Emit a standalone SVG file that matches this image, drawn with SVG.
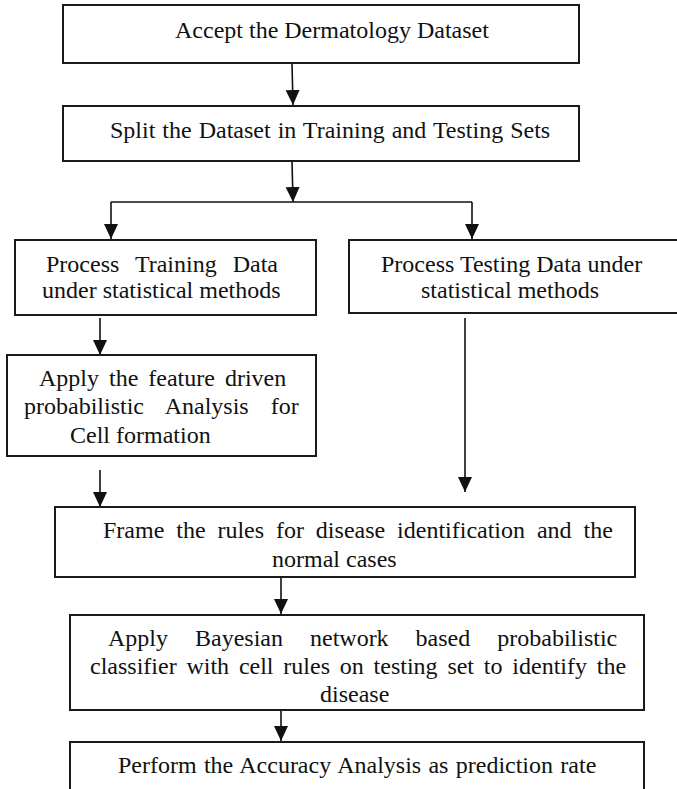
<svg xmlns="http://www.w3.org/2000/svg" width="677" height="789" viewBox="0 0 677 789">
<style>
.box{fill:#fff;stroke:#1a1a1a;stroke-width:2}
.t{font-family:"Liberation Serif","Times New Roman",serif;font-size:24px;fill:#111}
.c{stroke:#111;stroke-width:1.6;fill:none}
</style>
<defs>
<marker id="ah" markerUnits="userSpaceOnUse" markerWidth="15" markerHeight="15" refX="15" refY="7.5" orient="auto">
<path d="M0,0.5 L15,7.5 L0,14.5 z" fill="#111"/>
</marker>
</defs>
<rect width="677" height="789" fill="#fff"/>
<g id="connectors">
<path class="c" d="M292,63 L293,105" marker-end="url(#ah)"/>
<path class="c" d="M292,161 L293,202" marker-end="url(#ah)"/>
<path class="c" d="M111,202 L472,202"/>
<path class="c" d="M111,202 L111,239" marker-end="url(#ah)"/>
<path class="c" d="M472,202 L472,239" marker-end="url(#ah)"/>
<path class="c" d="M100,318 L100,355" marker-end="url(#ah)"/>
<path class="c" d="M465,318 L465,492" marker-end="url(#ah)"/>
<path class="c" d="M100,470 L100,507" marker-end="url(#ah)"/>
<path class="c" d="M281,577 L281,614" marker-end="url(#ah)"/>
<path class="c" d="M281,704 L281,741" marker-end="url(#ah)"/>
</g>
<g id="n1">
<rect class="box" x="63" y="5" width="516" height="58"/>
<text class="t" x="175" y="38">Accept the Dermatology Dataset</text>
</g>
<g id="n2">
<rect class="box" x="63" y="106" width="516" height="55"/>
<text class="t" x="110" y="138" word-spacing="1">Split the Dataset in Training and Testing Sets</text>
</g>
<g id="n3">
<rect class="box" x="15" y="240" width="301" height="75"/>
<text class="t" x="46" y="272" word-spacing="10">Process Training Data</text>
<text class="t" x="42" y="298">under statistical methods</text>
</g>
<g id="n4">
<rect class="box" x="349" y="240" width="340" height="73"/>
<text class="t" x="381" y="272">Process Testing Data under</text>
<text class="t" x="421" y="298">statistical methods</text>
</g>
<g id="n5">
<rect class="box" x="7" y="355" width="309" height="101"/>
<text class="t" x="39" y="386" word-spacing="4">Apply the feature driven</text>
<text class="t" x="24" y="414" word-spacing="16">probabilistic Analysis for</text>
<text class="t" x="70" y="443">Cell formation</text>
</g>
<g id="n6">
<rect class="box" x="55" y="507" width="580" height="70"/>
<text class="t" x="103" y="538" word-spacing="5.9">Frame the rules for disease identification and the</text>
<text class="t" x="272" y="567">normal cases</text>
</g>
<g id="n7">
<rect class="box" x="70" y="615" width="574" height="95"/>
<text class="t" x="108" y="646" word-spacing="21">Apply Bayesian network based probabilistic</text>
<text class="t" x="90" y="674" word-spacing="3.8">classifier with cell rules on testing set to identify the</text>
<text class="t" x="320" y="702">disease</text>
</g>
<g id="n8">
<rect class="box" x="70" y="742" width="574" height="60"/>
<text class="t" x="118" y="773" word-spacing="1.3">Perform the Accuracy Analysis as prediction rate</text>
</g>
</svg>
